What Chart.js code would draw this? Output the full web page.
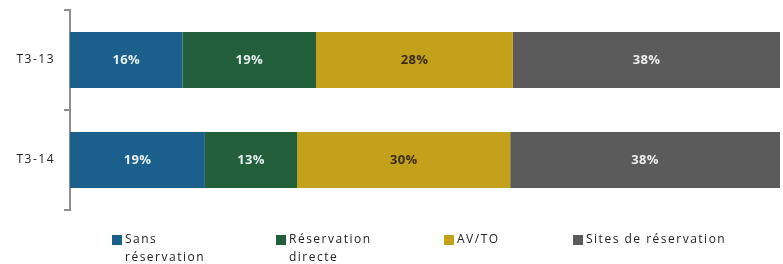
<!DOCTYPE html>
<html>
<head>
<meta charset="utf-8">
<script src="https://cdn.jsdelivr.net/npm/chart.js@4.4.1/dist/chart.umd.min.js"></script>
<style>
  html, body { margin: 0; padding: 0; background: #ffffff; }
  #wrap { width: 783px; height: 264px; position: relative; }
</style>
</head>
<body>
<div id="wrap"><canvas id="c" width="783" height="264"></canvas></div>
<script>
// ---- data ----
const categories = ['T3-13', 'T3-14'];
const seriesNames = ['Sans\nréservation', 'Réservation\ndirecte', 'AV/TO', 'Sites de réservation'];
const sansReservation = [16, 19];
const reservationDirecte = [19, 13];
const avTo = [28, 30];
const sitesReservation = [38, 38];
const seriesColors = ['#1b5f8c', '#245f3b', '#c3a11b', '#5b5b5b'];
const labelColors = ['#e6eef2', '#e6eef2', '#3a2c05', '#ececec'];

const seriesValues = [sansReservation, reservationDirecte, avTo, sitesReservation];
// share of each category total (100% stacked)
const totals = categories.map((_, i) => seriesValues.reduce((s, arr) => s + arr[i], 0));

const datasets = seriesValues.map((vals, k) => ({
  label: seriesNames[k].replace('\n', ' '),
  legendLines: seriesNames[k].split('\n'),
  raw: vals,
  data: vals.map((v, i) => v / totals[i] * 100),
  backgroundColor: seriesColors[k],
  labelColor: labelColors[k],
  borderWidth: 0,
  categoryPercentage: 1,
  barPercentage: 0.56
}));

const spacingPlugin = {
  id: 'spacing',
  beforeDraw(chart) { chart.ctx.letterSpacing = '1.5px'; }
};

const valueLabels = {
  id: 'valueLabels',
  afterDatasetsDraw(chart) {
    const ctx = chart.ctx;
    ctx.save();
    ctx.letterSpacing = '0.3px';
    ctx.font = 'bold 13px "Open Sans", sans-serif';
    ctx.textAlign = 'center';
    ctx.textBaseline = 'middle';
    chart.data.datasets.forEach((ds, k) => {
      const meta = chart.getDatasetMeta(k);
      meta.data.forEach((el, i) => {
        const p = el.getCenterPoint();
        ctx.fillStyle = ds.labelColor;
        ctx.fillText(ds.raw[i] + '%', p.x, p.y);
      });
    });
    ctx.restore();
  }
};

const customLegend = {
  id: 'customLegend',
  afterDraw(chart) {
    const ctx = chart.ctx;
    const xs = [112, 276, 444, 573];
    const top = chart.chartArea.bottom + 25;
    ctx.save();
    ctx.letterSpacing = '1.5px';
    ctx.font = '12px "Open Sans", sans-serif';
    ctx.textBaseline = 'middle';
    ctx.textAlign = 'left';
    chart.data.datasets.forEach((ds, k) => {
      const x = xs[k];
      ctx.fillStyle = ds.backgroundColor;
      ctx.fillRect(x, top, 10, 10);
      ctx.fillStyle = '#222222';
      ds.legendLines.forEach((line, j) => {
        ctx.fillText(line, x + 13, top + 5 + j * 18);
      });
    });
    ctx.restore();
  }
};

new Chart(document.getElementById('c'), {
  type: 'bar',
  data: { labels: categories, datasets },
  options: {
    indexAxis: 'y',
    responsive: false,
    animation: false,
    events: [],
    layout: { padding: { top: 10, right: 3, bottom: 54, left: 0 } },
    plugins: { legend: { display: false }, tooltip: { enabled: false } },
    scales: {
      x: { stacked: true, display: false, min: 0, max: 100 },
      y: {
        stacked: true,
        afterFit(scale) { scale.width = 70; scale.paddingTop = 0; scale.paddingBottom = 0; },
        grid: { offset: true, drawOnChartArea: false, drawTicks: true, tickLength: 6, color: '#8e8e8e', lineWidth: 2 },
        border: { color: '#8e8e8e', width: 2 },
        ticks: { padding: 9, color: '#222222', font: { size: 12, family: '"Open Sans", sans-serif' } }
      }
    }
  },
  plugins: [spacingPlugin, valueLabels, customLegend]
});
</script>
</body>
</html>
